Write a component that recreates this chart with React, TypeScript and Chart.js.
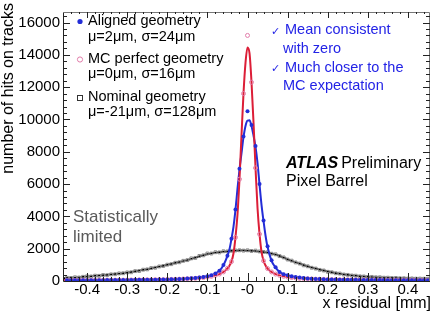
import React, { useEffect, useRef } from "react";
import { Chart, registerables } from "chart.js";

Chart.register(...registerables);

const FONT = '"Liberation Sans", Arial, Helvetica, sans-serif';

// histogram bin centres [mm]
const binCenters = [
  -0.45, -0.44, -0.43, -0.42, -0.41, -0.40, -0.39, -0.38, -0.37, -0.36,
  -0.35, -0.34, -0.33, -0.32, -0.31, -0.30, -0.29, -0.28, -0.27, -0.26,
  -0.25, -0.24, -0.23, -0.22, -0.21, -0.20, -0.19, -0.18, -0.17, -0.16,
  -0.15, -0.14, -0.13, -0.12, -0.11, -0.10, -0.09, -0.08, -0.07, -0.06,
  -0.05, -0.04, -0.03, -0.02, -0.01, 0.0, 0.01, 0.02, 0.03, 0.04,
  0.05, 0.06, 0.07, 0.08, 0.09, 0.10, 0.11, 0.12, 0.13, 0.14,
  0.15, 0.16, 0.17, 0.18, 0.19, 0.20, 0.21, 0.22, 0.23, 0.24,
  0.25, 0.26, 0.27, 0.28, 0.29, 0.30, 0.31, 0.32, 0.33, 0.34,
  0.35, 0.36, 0.37, 0.38, 0.39, 0.40, 0.41, 0.42, 0.43, 0.44,
  0.45,
];

// Nominal geometry (open squares)
const nominalHits = [
  200, 190, 230, 215, 260, 290, 280, 330, 320, 370,
  360, 410, 420, 470, 480, 530, 540, 610, 620, 700,
  720, 800, 820, 900, 930, 1010, 1040, 1130, 1160, 1250,
  1290, 1400, 1430, 1550, 1590, 1700, 1700, 1780, 1770, 1840,
  1830, 1870, 1890, 1900, 1880, 1900, 1860, 1880, 1830, 1800,
  1780, 1690, 1650, 1540, 1460, 1330, 1260, 1150, 1080, 970,
  910, 820, 770, 690, 650, 570, 540, 480, 460, 400,
  380, 340, 330, 290, 280, 250, 255, 230, 230, 205,
  205, 185, 190, 170, 170, 155, 160, 145, 150, 140,
  145,
];

// MC perfect geometry (open pink circles)
const mcHits = [
  40, 45, 40, 50, 45, 45, 50, 45, 50, 50,
  55, 50, 55, 60, 55, 60, 65, 60, 70, 70,
  75, 70, 80, 85, 85, 95, 100, 105, 115, 125,
  140, 150, 165, 190, 210, 240, 290, 350, 430, 560,
  780, 1200, 2700, 6300, 11600, 15200, 12300, 7000, 2900, 1250,
  770, 560, 430, 350, 290, 250, 215, 190, 165, 150,
  140, 125, 115, 110, 100, 95, 90, 85, 80, 78,
  72, 70, 66, 64, 60, 60, 58, 55, 56, 54,
  52, 50, 50, 48, 48, 46, 45, 45, 44, 42,
  40,
];

// Aligned geometry (filled blue circles)
const alignedHits = [
  45, 44, 46, 48, 47, 50, 50, 52, 52, 54,
  55, 57, 58, 60, 62, 65, 66, 70, 73, 75,
  78, 82, 85, 88, 92, 97, 103, 110, 118, 128,
  150, 165, 185, 220, 255, 300, 360, 470, 640, 990,
  1560, 2620, 4420, 6950, 8950, 10500, 9650, 8350, 6000, 3750,
  2150, 1280, 850, 560, 420, 350, 300, 250, 215, 185,
  160, 145, 130, 118, 108, 100, 95, 90, 85, 80,
  76, 73, 70, 66, 64, 62, 60, 58, 57, 55,
  54, 52, 51, 50, 49, 48, 47, 46, 45, 44,
  44,
];

// fitted curves, sampled
const fitX = [
  -0.46, -0.42, -0.38, -0.34, -0.30, -0.26, -0.22, -0.18, -0.15, -0.12,
  -0.10, -0.09, -0.08, -0.07, -0.06, -0.05, -0.045, -0.04, -0.035, -0.03,
  -0.025, -0.02, -0.015, -0.01, -0.005, 0.0, 0.005, 0.01, 0.015, 0.02,
  0.025, 0.03, 0.035, 0.04, 0.045, 0.05, 0.06, 0.07, 0.08, 0.09,
  0.10, 0.12, 0.15, 0.18, 0.22, 0.26, 0.30, 0.34, 0.38, 0.42,
  0.455,
];
const fitMC = [
  40, 45, 50, 55, 60, 70, 85, 110, 140, 190,
  250, 290, 350, 430, 560, 780, 950, 1200, 1700, 2700,
  4100, 6300, 9000, 11600, 13500, 14450, 14100, 12300, 9800, 7000,
  4500, 2900, 1800, 1250, 960, 770, 560, 430, 350, 290,
  250, 195, 140, 110, 85, 72, 62, 55, 50, 45,
  40,
];
const fitAligned = [
  44, 48, 52, 58, 65, 75, 90, 115, 150, 220,
  300, 360, 460, 640, 980, 1550, 1960, 2600, 3350, 4400,
  5700, 6900, 7900, 8900, 9600, 9930, 9950, 9600, 9000, 8300,
  7300, 5960, 4700, 3700, 2800, 2100, 1250, 830, 560, 420,
  350, 240, 160, 115, 90, 75, 65, 58, 52, 48,
  44,
];
const fitNominal = [
  170, 230, 320, 405, 520, 685, 890, 1120, 1300, 1530,
  1660, 1710, 1750, 1785, 1815, 1840, 1850, 1860, 1870, 1880,
  1885, 1890, 1890, 1890, 1885, 1880, 1877, 1870, 1860, 1850,
  1835, 1820, 1805, 1790, 1775, 1760, 1700, 1630, 1550, 1450,
  1340, 1160, 900, 700, 490, 345, 260, 210, 175, 150,
  140,
];

const xTickValues = [-0.4, -0.3, -0.2, -0.1, 0, 0.1, 0.2, 0.3, 0.4];
const yTickValues = [0, 2000, 4000, 6000, 8000, 10000, 12000, 14000, 16000];

const legendLabels = ["Aligned geometry", "MC perfect geometry", "Nominal geometry"];
const legendParams = ["\u03bc=2\u03bcm, \u03c3=24\u03bcm", "\u03bc=0\u03bcm, \u03c3=16\u03bcm", "\u03bc=-21\u03bcm, \u03c3=128\u03bcm"];
const noteLines = ["Mean consistent", "with zero", "Much closer to the", "MC expectation"];

const BLUE = "rgb(35,45,215)";
const RED = "rgb(220,30,55)";
const PINK = "rgb(225,125,170)";
const NOTE_BLUE = "rgb(35,35,230)";

const toPts = (xs: number[], ys: number[]) => xs.map((x, i) => ({ x, y: ys[i] }));

const decorPlugin = {
  id: "decor",
  afterDraw(chart: any) {
    const ctx: CanvasRenderingContext2D = chart.ctx;
    const { left, right, top, bottom } = chart.chartArea;
    const xs = chart.scales.x;
    const ys = chart.scales.y;
    ctx.save();
    // frame
    ctx.lineWidth = 1;
    ctx.strokeStyle = "#222";
    ctx.beginPath();
    ctx.moveTo(left + 0.5, top);
    ctx.lineTo(left + 0.5, bottom + 0.5);
    ctx.lineTo(right, bottom + 0.5);
    ctx.stroke();
    ctx.strokeStyle = "#777";
    ctx.beginPath();
    ctx.moveTo(left, top + 0.5);
    ctx.lineTo(right - 0.5, top + 0.5);
    ctx.lineTo(right - 0.5, bottom);
    ctx.stroke();

    // x ticks (bottom and top)
    ctx.beginPath();
    for (let i = -23; i <= 22; i++) {
      const v = i * 0.02;
      const major = Math.abs(v * 10 - Math.round(v * 10)) < 1e-6;
      const len = major ? 8 : 4;
      const px = Math.round(xs.getPixelForValue(v)) + 0.5;
      if (px <= left + 1 || px >= right - 1) continue;
      ctx.moveTo(px, bottom);
      ctx.lineTo(px, bottom - len);
      ctx.moveTo(px, top);
      ctx.lineTo(px, top + len - 2);
    }
    ctx.strokeStyle = "#222";
    ctx.stroke();
    // y ticks (left and right)
    ctx.beginPath();
    for (let v = 0; v <= 16650; v += 400) {
      const major = v % 2000 === 0;
      const len = major ? 7 : 4;
      const py = Math.round(ys.getPixelForValue(v)) + 0.5;
      if (py <= top + 1 || py >= bottom) continue;
      ctx.moveTo(left, py);
      ctx.lineTo(left + len, py);
      ctx.moveTo(right, py);
      ctx.lineTo(right - len, py);
    }
    ctx.stroke();

    // axis titles
    ctx.fillStyle = "#000";
    ctx.font = `16px ${FONT}`;
    ctx.textBaseline = "middle";
    ctx.textAlign = "right";
    ctx.fillText("x residual [mm]", 431, 304);
    ctx.save();
    ctx.translate(9, 3);
    ctx.rotate(-Math.PI / 2);
    ctx.textAlign = "right";
    ctx.fillText("number of hits on tracks", 0, 0);
    ctx.restore();

    // legend
    ctx.textAlign = "left";
    ctx.font = `14.5px ${FONT}`;
    const rowY = [21, 59, 97];
    const parY = [37, 74, 112];
    for (let i = 0; i < 3; i++) {
      ctx.fillStyle = "#000";
      ctx.fillText(legendLabels[i], 88, rowY[i]);
      ctx.fillText(legendParams[i], 88, parY[i]);
    }
    ctx.fillStyle = BLUE;
    ctx.beginPath();
    ctx.arc(80, 21.5, 2.6, 0, Math.PI * 2);
    ctx.fill();
    ctx.strokeStyle = PINK;
    ctx.beginPath();
    ctx.arc(80, 59.5, 2.6, 0, Math.PI * 2);
    ctx.stroke();
    ctx.strokeStyle = "#333";
    ctx.strokeRect(77.5, 95.5, 5, 5);

    // blue note
    ctx.fillStyle = NOTE_BLUE;
    ctx.font = `14.5px ${FONT}`;
    ctx.fillText(noteLines[0], 285, 30);
    ctx.fillText(noteLines[1], 283, 49);
    ctx.fillText(noteLines[2], 285, 68);
    ctx.fillText(noteLines[3], 283, 86);
    ctx.font = `11px "DejaVu Sans", sans-serif`;
    ctx.fillText("\u2713", 271, 32);
    ctx.fillText("\u2713", 271, 69);

    // ATLAS label
    ctx.fillStyle = "#000";
    ctx.font = `italic bold 16px ${FONT}`;
    ctx.fillText("ATLAS", 286, 164);
    const w = ctx.measureText("ATLAS").width;
    ctx.font = `16px ${FONT}`;
    ctx.fillText("Preliminary", 286 + w + 3, 164);
    ctx.fillText("Pixel Barrel", 286, 182);

    // statistically limited
    ctx.fillStyle = "#5a5a5a";
    ctx.font = `17px ${FONT}`;
    ctx.fillText("Statistically", 73, 217);
    ctx.fillText("limited", 73, 237);
    ctx.restore();
  },
};

export default function App() {
  const ref = useRef<HTMLCanvasElement | null>(null);
  useEffect(() => {
    if (!ref.current) return;
    const chart = new Chart(ref.current, {
      type: "line",
      data: {
        datasets: [
          {
            label: "Aligned data",
            data: toPts(binCenters, alignedHits),
            showLine: false,
            pointStyle: "circle",
            pointRadius: 2,
            pointBackgroundColor: BLUE,
            pointBorderColor: BLUE,
            pointBorderWidth: 0,
            order: 1,
          },
          {
            label: "MC data",
            data: toPts(binCenters, mcHits),
            showLine: false,
            pointStyle: "circle",
            pointRadius: 2,
            pointBackgroundColor: "rgba(0,0,0,0)",
            pointBorderColor: PINK,
            pointBorderWidth: 1,
            order: 2,
          },
          {
            label: "MC fit",
            data: toPts(fitX, fitMC),
            borderColor: RED,
            borderWidth: 2,
            pointRadius: 0,
            cubicInterpolationMode: "monotone",
            fill: false,
            order: 3,
          },
          {
            label: "Aligned fit",
            data: toPts(fitX, fitAligned),
            borderColor: BLUE,
            borderWidth: 2,
            pointRadius: 0,
            cubicInterpolationMode: "monotone",
            fill: false,
            order: 4,
          },
          {
            label: "Nominal data",
            data: toPts(binCenters, nominalHits),
            showLine: false,
            pointStyle: "rect",
            pointRadius: 2,
            pointBackgroundColor: "rgba(0,0,0,0)",
            pointBorderColor: "#8a8a8a",
            pointBorderWidth: 1,
            order: 5,
          },
          {
            label: "Nominal fit",
            data: toPts(fitX, fitNominal),
            borderColor: "#000",
            borderWidth: 1.8,
            pointRadius: 0,
            cubicInterpolationMode: "monotone",
            fill: false,
            order: 6,
          },
        ],
      },
      options: {
        animation: false,
        responsive: false,
        maintainAspectRatio: false,
        layout: { padding: { top: 4, right: 6, left: 0, bottom: 0 } },
        plugins: { legend: { display: false }, tooltip: { enabled: false } },
        scales: {
          x: {
            type: "linear",
            min: -0.46,
            max: 0.455,
            grid: { display: false, drawTicks: false },
            border: { display: false },
            ticks: {
              color: "#000",
              font: { family: FONT, size: 15 },
              padding: 0,
              maxRotation: 0,
              autoSkip: false,
              callback: (v: any) => (Number(v) === 0 ? "-0" : String(v)),
            },
            afterBuildTicks: (s: any) => {
              s.ticks = xTickValues.map((v) => ({ value: v }));
            },
            afterFit: (s: any) => {
              s.height = 32;
            },
          },
          y: {
            type: "linear",
            min: 0,
            max: 16650,
            grid: { display: false, drawTicks: false },
            border: { display: false },
            ticks: {
              color: "#000",
              font: { family: FONT, size: 15 },
              padding: 3,
              callback: (v: any) => String(v),
            },
            afterBuildTicks: (s: any) => {
              s.ticks = yTickValues.map((v) => ({ value: v }));
            },
            afterFit: (s: any) => {
              s.width = 63;
            },
          },
        },
      },
      plugins: [decorPlugin],
    } as any);
    return () => chart.destroy();
  }, []);
  return (
    <div style={{ position: "fixed", left: 0, top: 0, width: 436, height: 313, background: "#fff" }}>
      <canvas ref={ref} width={436} height={313} style={{ display: "block" }} />
    </div>
  );
}
